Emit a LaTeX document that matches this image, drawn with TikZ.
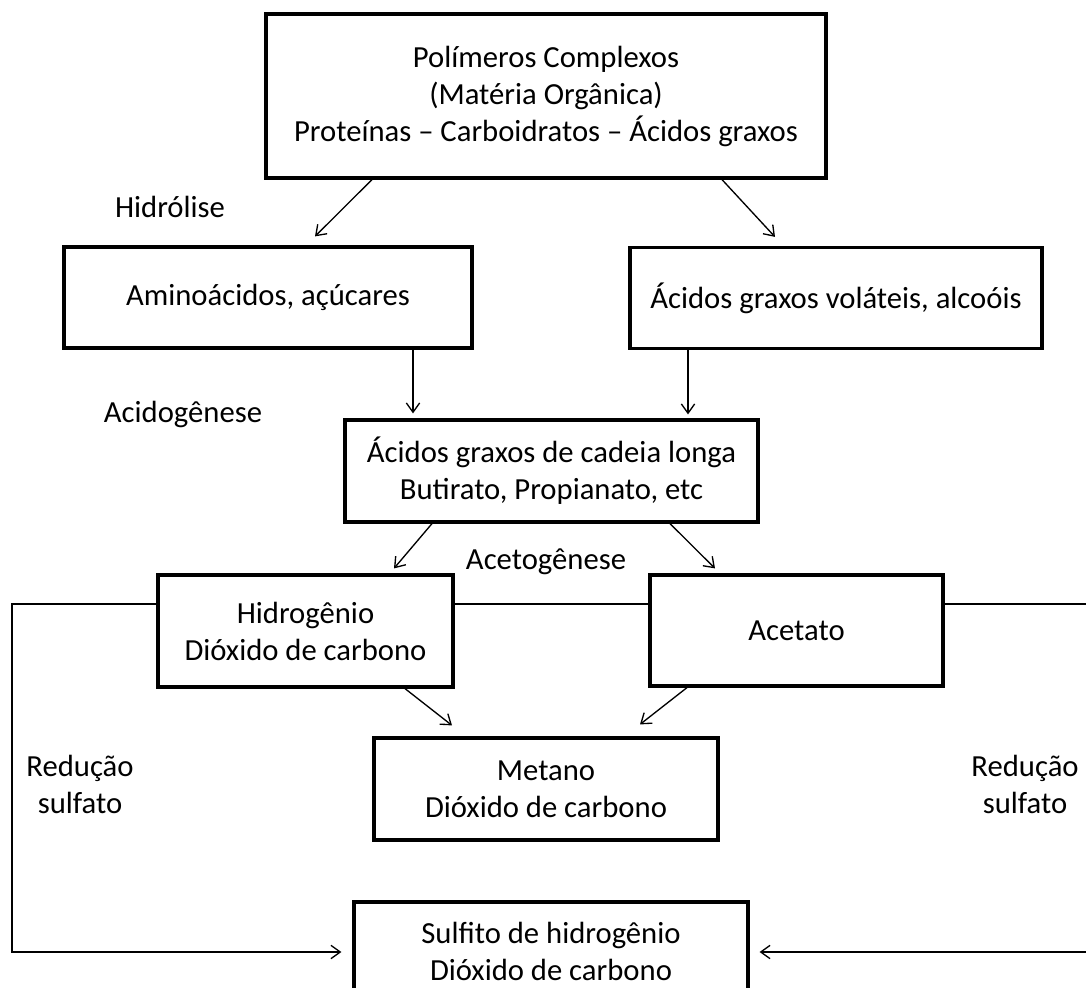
\documentclass[tikz,border=0pt]{standalone}
\usepackage{fontspec}
\setmainfont{Carlito}
\usetikzlibrary{arrows.meta,calc}

\begin{document}
\begin{tikzpicture}[x=0.75pt,y=-0.75pt,
  caixa/.style={draw,line width=2.4pt,align=center,inner sep=0pt},
  seta/.style={-{Straight Barb[length=7pt,width=10pt]},line width=1pt},
  linha/.style={line width=1pt},
  rotulo/.style={align=center}]
\useasboundingbox (0,0) rectangle (1086,988);
\fontsize{23}{27.75}\selectfont
% caixas
\node[caixa,minimum width=560*0.75pt,minimum height=164*0.75pt] (topo) at (546,96) {Polímeros Complexos\\(Matéria Orgânica)\\Proteínas -- Carboidratos -- Ácidos graxos};
\node[caixa,minimum width=408*0.75pt,minimum height=101*0.75pt] (amino) at (268,297.5) {Aminoácidos, açúcares};
\node[caixa,minimum width=412*0.75pt,minimum height=101*0.75pt] (agv) at (836,298) {Ácidos graxos voláteis, alcoóis};
\node[caixa,minimum width=413*0.75pt,minimum height=102*0.75pt] (longa) at (551.5,471) {Ácidos graxos de cadeia longa\\Butirato, Propianato, etc};
\node[caixa,minimum width=295*0.75pt,minimum height=112*0.75pt] (hidro) at (305.5,631) {Hidrogênio\\Dióxido de carbono};
\node[caixa,minimum width=293*0.75pt,minimum height=111*0.75pt] (acet) at (796.5,630.5) {Acetato};
\node[caixa,minimum width=344*0.75pt,minimum height=102*0.75pt] (metano) at (546,789) {Metano\\Dióxido de carbono};
\node[caixa,minimum width=394*0.75pt,minimum height=98*0.75pt] (sulf) at (551,951) {Sulfito de hidrogênio\\Dióxido de carbono};
% rotulos
\node[rotulo] (hidrolise) at (170,207) {Hidrólise};
\node[rotulo] (acido) at (183,414) {Acidogênese};
\node[rotulo] (aceto) at (546,562) {Acetogênese};
\node[rotulo] (redesq) at (80,784) {Redução\\sulfato};
\node[rotulo] (reddir) at (1025,784) {Redução\\sulfato};
% setas
\draw[seta] ($(topo.south)+(-174,0)$) -- ($(amino.north)+(47,-9)$);
\draw[seta] ($(topo.south)+(176,0)$) -- ($(agv.north)+(-61,-9)$);
\draw[seta] ($(amino.south)+(145,0)$) -- ($(longa.north)+(-138.5,-5)$);
\draw[seta] ($(agv.south)+(-148,0)$) -- ($(longa.north)+(136.5,-4)$);
\draw[seta] ($(longa.south)+(-119.5,0)$) -- ($(hidro.north)+(88.5,-5)$);
\draw[seta] ($(longa.south)+(118.5,0)$) -- ($(acet.north)+(-81.5,-5)$);
\draw[seta] ($(hidro.south)+(99.5,0)$) -- ($(metano.north)+(-94,-11)$);
\draw[seta] ($(acet.south)+(-109.5,0)$) -- ($(metano.north)+(94,-12)$);
% reducao do sulfato
\coordinate (esq1) at (12,604);
\coordinate (esq2) at (12,952);
\coordinate (dir1) at (1086,604);
\coordinate (dir2) at (1086,952);
\draw[linha] ($(hidro.east)+(0,-27)$) -- ($(acet.west)+(0,-26.5)$);
\draw[seta] ($(hidro.west)+(0,-27)$) -- (esq1) -- (esq2) -- ($(sulf.west)+(-11,1)$);
\draw[linha] ($(acet.east)+(0,-26.5)$) -- (dir1);
\draw[seta] (dir2) -- ($(sulf.east)+(10,1)$);
\end{tikzpicture}
\end{document}
